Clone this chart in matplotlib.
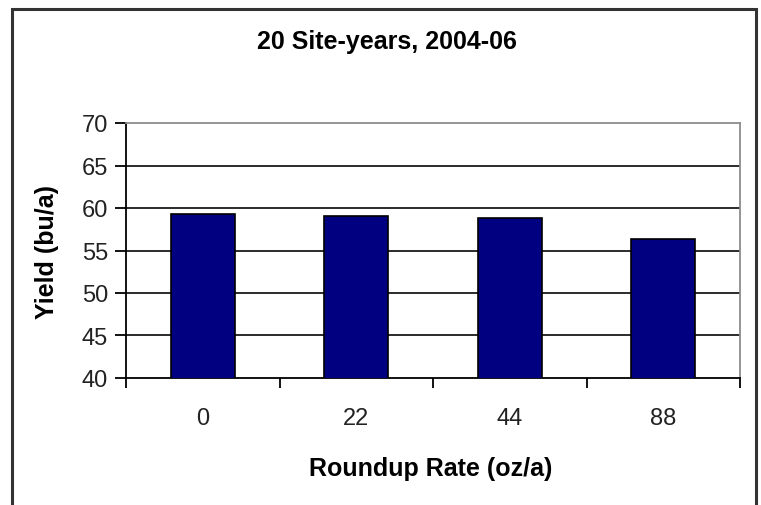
import matplotlib
matplotlib.use("Agg")
import matplotlib.pyplot as plt
from matplotlib.patches import Rectangle

categories = ["0", "22", "44", "88"]
yields = [59.3, 59.1, 58.8, 56.4]
yticks = [40, 45, 50, 55, 60, 65, 70]

plt.rcParams['font.family'] = ['Liberation Sans', 'DejaVu Sans']

W, H = 761, 506
fig = plt.figure(figsize=(W/100, H/100), dpi=100)
fig.patch.set_facecolor('white')

# plot area: x 126..740, y 124..379 (pixels from top)
ax = fig.add_axes([126/W, 1-379/H, (740-126)/W, (379-124)/H])

x = list(range(len(categories)))
ax.bar(x, yields, width=0.42, color='#000080', edgecolor='black', linewidth=1.2, zorder=3)
ax.set_xlim(-0.5, len(categories)-0.5)
ax.set_ylim(40, 70)
ax.set_yticks(yticks)
ax.set_yticklabels([str(v) for v in yticks], fontsize=17, color='#222222')
ax.set_xticks(x)
ax.set_xticklabels(categories, fontsize=17, color='#222222')
ax.tick_params(axis='x', length=0, pad=21)
ax.tick_params(axis='y', length=8, width=1.3, direction='out', pad=5, color='black')
# x category boundary ticks
ax.set_xticks([i - 0.5 for i in range(len(categories)+1)], minor=True)
ax.tick_params(axis='x', which='minor', length=7, width=1.3, direction='out', color='black')

for v in yticks[1:-1]:
    ax.axhline(v, color='#1a1a1a', linewidth=1.3, zorder=1)
ax.spines['left'].set_linewidth(1.3)
ax.spines['bottom'].set_linewidth(1.3)
ax.spines['left'].set_color('black')
ax.spines['bottom'].set_color('black')
ax.spines['top'].set_color('#8c8c8c')
ax.spines['right'].set_color('#8c8c8c')
ax.spines['top'].set_linewidth(1.3)
ax.spines['right'].set_linewidth(1.3)

fig.text(387/W, 1-42/H, "20 Site-years, 2004-06", ha='center', va='center',
         fontsize=18, fontweight='bold')
fig.text(431/W, 1-469/H, "Roundup Rate (oz/a)", ha='center', va='center',
         fontsize=18, fontweight='bold')
fig.text(47/W, 1-252/H, "Yield (bu/a)", ha='center', va='center', rotation=90,
         fontsize=18, fontweight='bold')

# outer chart border (bottom edge cut off)
fig.patches.append(Rectangle((12/W, -0.05), (756-12)/W, 1.05 - 10/H,
                             transform=fig.transFigure, fill=False,
                             edgecolor='#333333', linewidth=2.2))

fig.savefig("out.png", dpi=100)
